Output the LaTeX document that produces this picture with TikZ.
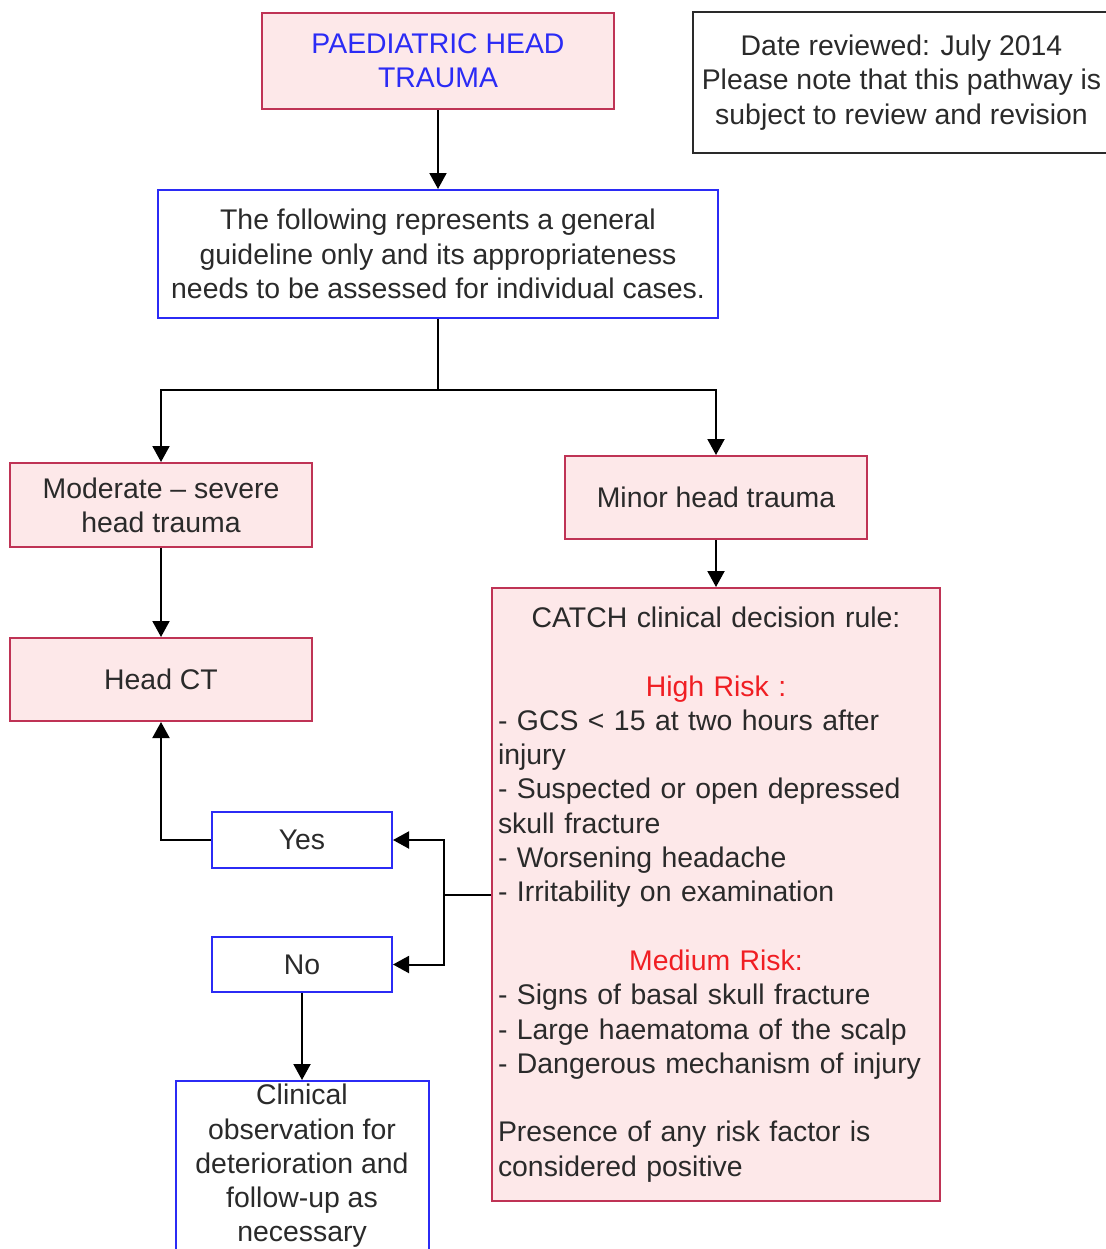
\documentclass[tikz,border=0pt]{standalone}
\usepackage{fontspec}
\setmainfont{Liberation Sans}
\usepackage{tikz}
\usetikzlibrary{positioning,arrows.meta}
\definecolor{cRose}{HTML}{BF3355}
\definecolor{cRoseFill}{HTML}{FDE8E9}
\definecolor{cBlue}{HTML}{2B2BF5}
\definecolor{cRisk}{HTML}{F01E23}
\definecolor{cInk}{HTML}{2A2A2A}
\newcommand{\riskline}[1]{\makebox[218pt]{\textcolor{cRisk}{#1}}}
\newcommand{\midline}[1]{\makebox[218pt]{#1}}
\tikzset{
  blk/.style={draw, line width=1pt, align=center, inner sep=0pt, text=cInk,
              font=\fontsize{14.2}{17.15}\selectfont},
  blkR/.style={blk, draw=cRose, fill=cRoseFill},
  blkB/.style={blk, draw=cBlue, fill=white},
  blkK/.style={blk, draw=cInk, line width=1.2pt, fill=white},
  ar/.style={-{Triangle[length=8pt,width=8.5pt]}, line width=1pt, black}
}
\begin{document}
\begin{tikzpicture}[x=0.5pt,y=-0.5pt]
\useasboundingbox (0,0) rectangle (1106,1249);
\node[blkR, minimum width=176pt, minimum height=48pt, text=cBlue] (title) at (438,61) {PAEDIATRIC HEAD\\TRAUMA};
\node[blkK, minimum width=208.5pt, minimum height=70.5pt] (note) at (901.5,82.5) {Date reviewed: July 2014\\Please note that this pathway is\\subject to review and revision};
\node[blkB, minimum width=280pt, minimum height=64pt, below=39.5pt of title] (guide) {The following represents a general\\guideline only and its appropriateness\\needs to be assessed for individual cases.};
\node[blkR, minimum width=151pt, minimum height=42pt] (mod) at (161,505) {Moderate -- severe\\head trauma};
\node[blkR, minimum width=151pt, minimum height=41.5pt] (minor) at (716,497.5) {Minor head trauma};
\node[blkR, minimum width=151pt, minimum height=41.5pt, below=44.5pt of mod] (ct) {Head CT};
\node[blkR, minimum width=224pt, minimum height=306.5pt, text width=218pt, align=left, below=23.5pt of minor] (catch) {\midline{CATCH clinical decision rule:}\\ \mbox{}\\
\riskline{High Risk :}\\
- GCS < 15 at two hours after\\injury\\
- Suspected or open depressed\\skull fracture\\
- Worsening headache\\
- Irritability on examination\\ \mbox{}\\
\riskline{Medium Risk:}\\
- Signs of basal skull fracture\\
- Large haematoma of the scalp\\
- Dangerous mechanism of injury\\ \mbox{}\\
Presence of any risk factor is\\considered positive};
\node[blkB, minimum width=90pt, minimum height=28pt] (yes) at (302,840) {Yes};
\node[blkB, minimum width=90pt, minimum height=27.5pt] (no) at (302,964.5) {No};
\node[blkB, minimum width=126.5pt, minimum height=85pt, below=43.5pt of no] (clin) {Clinical\\observation for\\deterioration and\\follow-up as\\necessary};
\coordinate (split) at (438,390);
\coordinate (fork) at ([xshift=-23.5pt]catch.west);
\draw[ar] (title) -- (guide);
\draw[line width=1pt] (guide) -- (split);
\draw[ar] (split) -| (mod);
\draw[ar] (split) -| (minor);
\draw[ar] (mod) -- (ct);
\draw[ar] (minor) -- (minor |- catch.north);
\draw[line width=1pt] (catch.west) -- (fork);
\draw[ar] (fork) |- (yes);
\draw[ar] (fork) |- (no);
\draw[ar] (yes) -| (ct);
\draw[ar] (no) -- (clin);
\end{tikzpicture}
\end{document}
